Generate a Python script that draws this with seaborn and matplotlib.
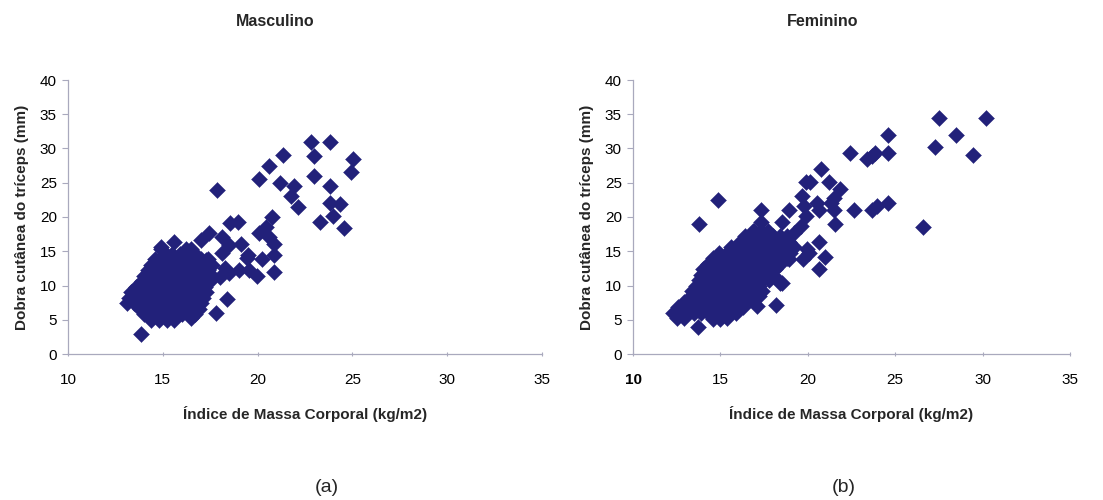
import matplotlib
matplotlib.use("Agg")
import matplotlib.pyplot as plt
import seaborn as sns
import pandas as pd

sns.set_theme(style="white")
plt.rcParams['font.family'] = ['Liberation Sans', 'DejaVu Sans']

# ---------------- data ----------------
# Masculino: IMC (x) and dobra cutânea do tríceps (y)
masc_x = [
    # dense cluster
    14.9, 16.2, 16.5,
    15.1, 15.5, 15.9, 16.3, 16.7,
    14.6, 15.0, 15.4, 15.8, 16.2, 16.6, 17.0, 17.4,
    14.4, 14.8, 15.2, 15.6, 16.0, 16.4, 16.8, 17.2, 17.6,
    14.2, 14.6, 15.0, 15.4, 15.8, 16.2, 16.6, 17.0, 17.4,
    14.0, 14.4, 14.8, 15.2, 15.6, 16.0, 16.4, 16.8, 17.2, 17.6,
    13.9, 14.3, 14.7, 15.1, 15.5, 15.9, 16.3, 16.7, 17.1, 17.5,
    13.6, 14.0, 14.4, 14.8, 15.2, 15.6, 16.0, 16.4, 16.8, 17.2,
    13.3, 13.7, 14.1, 14.5, 14.9, 15.3, 15.7, 16.1, 16.5, 16.9, 17.3,
    13.2, 13.6, 14.0, 14.4, 14.8, 15.2, 15.6, 16.0, 16.4, 16.8, 17.1,
    13.1, 13.5, 13.9, 14.3, 14.7, 15.1, 15.5, 15.9, 16.3, 16.7, 17.0,
    13.8, 14.2, 14.6, 15.0, 15.4, 15.8, 16.2, 16.6, 16.9,
    14.0, 14.4, 14.8, 15.2, 15.6, 16.0, 16.4, 16.7,
    14.4, 14.8, 15.2, 15.6, 16.5,
    # scattered points
    22.8, 23.8, 23.0, 25.05, 21.35, 20.6, 20.05, 21.2, 21.9, 23.0,
    23.8, 24.9, 21.75, 22.15, 23.8, 24.35, 24.0, 23.3, 24.55, 17.85,
    20.75, 20.05, 20.45, 18.55, 18.95, 18.1, 17.45, 17.0, 19.1, 19.5,
    19.45, 20.25, 20.85, 20.85, 20.6, 20.85, 19.95, 19.55, 19.0, 18.5,
    18.4, 17.8, 13.85, 14.9, 15.6, 18.1, 18.5, 18.0, 17.3, 18.3,
]
masc_y = [
    15.4, 15.4, 15.4,
    14.6, 14.6, 14.6, 14.6, 14.6,
    13.8, 13.8, 13.8, 13.8, 13.8, 13.8, 13.8, 13.8,
    13.0, 13.0, 13.0, 13.0, 13.0, 13.0, 13.0, 13.0, 13.0,
    12.2, 12.2, 12.2, 12.2, 12.2, 12.2, 12.2, 12.2, 12.2,
    11.4, 11.4, 11.4, 11.4, 11.4, 11.4, 11.4, 11.4, 11.4, 11.4,
    10.6, 10.6, 10.6, 10.6, 10.6, 10.6, 10.6, 10.6, 10.6, 10.6,
    9.8, 9.8, 9.8, 9.8, 9.8, 9.8, 9.8, 9.8, 9.8, 9.8,
    9.0, 9.0, 9.0, 9.0, 9.0, 9.0, 9.0, 9.0, 9.0, 9.0, 9.0,
    8.2, 8.2, 8.2, 8.2, 8.2, 8.2, 8.2, 8.2, 8.2, 8.2, 8.2,
    7.4, 7.4, 7.4, 7.4, 7.4, 7.4, 7.4, 7.4, 7.4, 7.4, 7.4,
    6.6, 6.6, 6.6, 6.6, 6.6, 6.6, 6.6, 6.6, 6.6,
    5.8, 5.8, 5.8, 5.8, 5.8, 5.8, 5.8, 5.8,
    5.0, 5.0, 5.0, 5.0, 5.2,
    31.0, 31.0, 28.9, 28.5, 29.0, 27.4, 25.5, 25.0, 24.5, 26.0,
    24.5, 26.5, 23.0, 21.5, 22.1, 21.9, 20.2, 19.3, 18.4, 24.0,
    20.0, 17.6, 18.6, 19.1, 19.3, 17.1, 17.6, 16.6, 16.0, 14.5,
    14.0, 13.9, 14.5, 16.0, 17.1, 11.9, 11.4, 12.3, 12.3, 11.8,
    8.0, 6.0, 2.9, 15.6, 16.4, 14.7, 15.9, 11.3, 13.7, 12.6,
]

# Feminino
fem_x = [
    16.9, 17.3, 17.7,
    16.4, 16.8, 17.2, 17.6, 18.0, 18.4, 18.8,
    16.1, 16.5, 16.9, 17.3, 17.7, 18.1, 18.5, 18.9,
    15.6, 16.0, 16.4, 16.8, 17.2, 17.6, 18.0, 18.4, 18.8, 19.2,
    14.9, 15.4, 15.8, 16.2, 16.6, 17.0, 17.4, 17.8, 18.2, 18.6, 19.0,
    14.6, 15.0, 15.4, 15.8, 16.2, 16.6, 17.0, 17.4, 17.8, 18.2, 18.8,
    14.3, 14.7, 15.1, 15.5, 15.9, 16.3, 16.7, 17.1, 17.5, 17.9, 18.4,
    14.0, 14.4, 14.8, 15.2, 15.6, 16.0, 16.4, 16.8, 17.2, 17.6, 18.1,
    13.9, 14.3, 14.7, 15.1, 15.5, 15.9, 16.3, 16.7, 17.1, 17.5, 17.9,
    13.8, 14.2, 14.6, 15.0, 15.4, 15.8, 16.2, 16.6, 17.0, 17.4, 17.8, 18.3,
    13.6, 14.0, 14.4, 14.8, 15.2, 15.6, 16.0, 16.4, 16.8, 17.2, 18.4,
    13.4, 13.8, 14.2, 14.6, 15.0, 15.4, 15.8, 16.2, 16.6, 17.0, 17.4,
    13.3, 13.7, 14.1, 14.5, 14.9, 15.3, 15.7, 16.1, 16.5, 16.9, 17.2,
    12.9, 13.3, 13.7, 14.1, 14.5, 14.9, 15.3, 15.7, 16.1, 16.5,
    12.6, 13.0, 13.4, 13.8, 14.2, 14.6, 15.0, 15.4, 15.8, 16.3,
    12.3, 12.7, 13.1, 13.5, 13.9, 14.3, 14.7, 15.1, 15.5, 15.9,
    12.5, 12.9, 14.6, 15.0, 15.4,
    # scattered points
    27.5, 30.2, 28.5, 27.25, 29.45, 26.6, 24.6, 24.6, 23.85, 23.4,
    23.7, 22.4, 24.6, 23.95, 23.7, 22.65, 20.75, 21.2, 19.9, 20.1,
    21.85, 21.5, 21.3, 20.55, 20.65, 21.5, 21.55, 19.65, 19.8, 19.9,
    18.95, 17.3, 14.85, 13.8, 20.65, 21.0, 20.65, 19.95, 20.05, 19.7,
    19.2, 19.6, 18.2, 17.1, 13.7, 18.55, 18.9, 18.55, 17.3, 16.85,
]
fem_y = [
    18.0, 18.0, 18.0,
    17.2, 17.2, 17.2, 17.2, 17.2, 17.2, 17.2,
    16.4, 16.4, 16.4, 16.4, 16.4, 16.4, 16.4, 16.4,
    15.6, 15.6, 15.6, 15.6, 15.6, 15.6, 15.6, 15.6, 15.6, 15.6,
    14.8, 14.8, 14.8, 14.8, 14.8, 14.8, 14.8, 14.8, 14.8, 14.8, 14.8,
    14.0, 14.0, 14.0, 14.0, 14.0, 14.0, 14.0, 14.0, 14.0, 14.0, 14.0,
    13.2, 13.2, 13.2, 13.2, 13.2, 13.2, 13.2, 13.2, 13.2, 13.2, 13.2,
    12.4, 12.4, 12.4, 12.4, 12.4, 12.4, 12.4, 12.4, 12.4, 12.4, 12.4,
    11.6, 11.6, 11.6, 11.6, 11.6, 11.6, 11.6, 11.6, 11.6, 11.6, 11.6,
    10.8, 10.8, 10.8, 10.8, 10.8, 10.8, 10.8, 10.8, 10.8, 10.8, 10.8, 10.8,
    10.0, 10.0, 10.0, 10.0, 10.0, 10.0, 10.0, 10.0, 10.0, 10.0, 10.3,
    9.2, 9.2, 9.2, 9.2, 9.2, 9.2, 9.2, 9.2, 9.2, 9.2, 9.2,
    8.4, 8.4, 8.4, 8.4, 8.4, 8.4, 8.4, 8.4, 8.4, 8.4, 8.4,
    7.6, 7.6, 7.6, 7.6, 7.6, 7.6, 7.6, 7.6, 7.6, 7.6,
    6.8, 6.8, 6.8, 6.8, 6.8, 6.8, 6.8, 6.8, 6.8, 6.8,
    6.0, 6.0, 6.0, 6.0, 6.0, 6.0, 6.0, 6.0, 6.0, 6.0,
    5.3, 5.3, 5.1, 5.1, 5.3,
    34.5, 34.5, 31.9, 30.2, 29.0, 18.5, 31.9, 29.4, 29.4, 28.4,
    28.9, 29.4, 22.0, 21.6, 21.0, 21.0, 27.0, 25.1, 25.1, 25.1,
    24.1, 22.8, 22.1, 22.1, 21.0, 21.0, 19.0, 23.1, 21.6, 20.1,
    21.0, 21.0, 22.5, 19.0, 16.3, 14.2, 12.4, 15.3, 14.8, 13.8,
    17.7, 18.7, 7.1, 7.0, 3.9, 10.4, 13.8, 19.2, 19.2, 18.0,
]

titles = ["Masculino", "Feminino"]
panel_tags = ["(a)", "(b)"]
x_label = "Índice de Massa Corporal (kg/m2)"
y_label = "Dobra cutânea do tríceps (mm)"
x_ticks = [10, 15, 20, 25, 30, 35]
y_ticks = [0, 5, 10, 15, 20, 25, 30, 35, 40]

# ---------------- figure ----------------
navy = "#22217a"
axis_col = "#a9a9bd"

fig = plt.figure(figsize=(11.03, 5.0), dpi=100)
ax_l = fig.add_axes([68 / 1103, 1 - 354 / 500, (542 - 68) / 1103, (354 - 80) / 500])
ax_r = fig.add_axes([633 / 1103, 1 - 354 / 500, (1070 - 633) / 1103, (354 - 80) / 500])

datasets = [(masc_x, masc_y), (fem_x, fem_y)]
for ax, (xs, ys) in zip([ax_l, ax_r], datasets):
    df = pd.DataFrame({"imc": xs, "dobra": ys})
    sns.scatterplot(data=df, x="imc", y="dobra", ax=ax, marker="D", s=66,
                    color=navy, edgecolor=navy, linewidth=0.3, legend=False)
    ax.set_xlim(10, 35)
    ax.set_ylim(0, 40)
    ax.set_xticks(x_ticks)
    ax.set_yticks(y_ticks)
    ax.set_xticklabels([str(t) for t in x_ticks])
    ax.set_yticklabels([str(t) for t in y_ticks])
    for s in ["top", "right"]:
        ax.spines[s].set_visible(False)
    for s in ["left", "bottom"]:
        ax.spines[s].set_color(axis_col)
        ax.spines[s].set_linewidth(0.9)
    ax.tick_params(axis="y", direction="out", length=4, width=0.8,
                   color=axis_col, labelsize=11, pad=4, left=True,
                   labelcolor="#000000")
    ax.tick_params(axis="x", direction="inout", length=3, width=0.8,
                   color=axis_col, labelsize=11, pad=12, bottom=True,
                   labelcolor="#000000")
    ax.set_xlabel(x_label, fontsize=11, fontweight="bold", labelpad=14)
    ax.set_ylabel(y_label, fontsize=11, fontweight="bold", labelpad=8)
    ax.set_facecolor("white")

# first tick label of the right panel appears bold in the original
ax_r.get_xticklabels()[0].set_fontweight("bold")

fig.text(275 / 1103, 1 - 22 / 500, titles[0], ha="center", va="center",
         fontsize=11.5, fontweight="bold")
fig.text(823 / 1103, 1 - 22 / 500, titles[1], ha="center", va="center",
         fontsize=11.5, fontweight="bold")
fig.text(327 / 1103, 1 - 488 / 500, panel_tags[0], ha="center", va="center",
         fontsize=14)
fig.text(844 / 1103, 1 - 488 / 500, panel_tags[1], ha="center", va="center",
         fontsize=14)

fig.savefig("out.png", dpi=100, facecolor="white")
